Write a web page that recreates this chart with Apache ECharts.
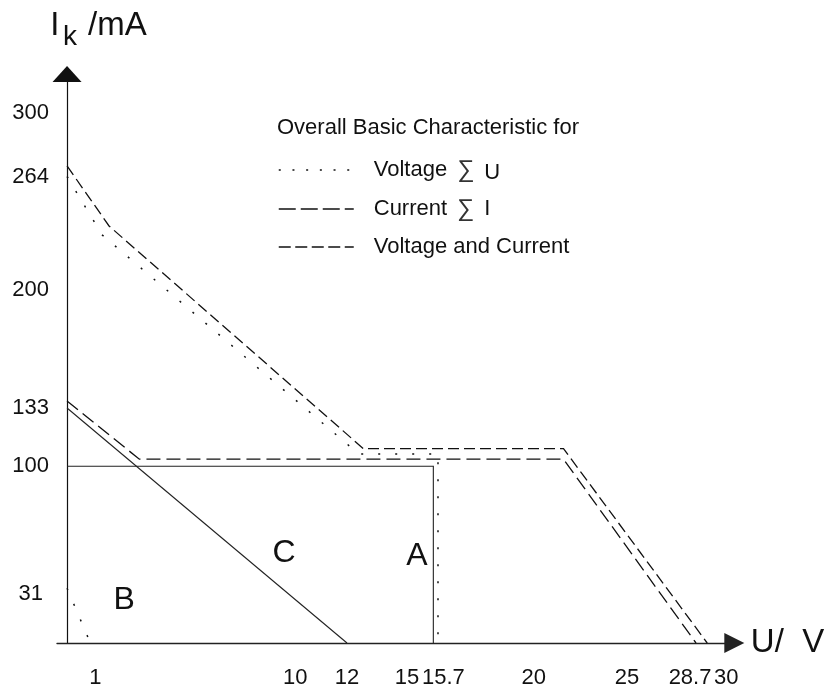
<!DOCTYPE html>
<html>
<head>
<meta charset="utf-8">
<script src="https://cdn.jsdelivr.net/npm/echarts@6/dist/echarts.min.js"></script>
<style>
  html, body { margin: 0; padding: 0; background: #fff; }
  #chart { width: 833px; height: 688px; }
</style>
</head>
<body>
<div id="chart"></div>
<script>
// Tick labels
const uTicks = [1, 10, 12, 15, 15.7, 20, 25, 28.7, 30];
const iTicks = [31, 100, 133, 200, 264, 300];

// Overall characteristics, points as [U / V, Ik / mA]
const voltageSumU = [[0, 264], [1.5, 231], [12.5, 107], [15.9, 107], [15.9, 0]];
const currentSumI = [[0, 137], [3.1, 104], [21.6, 104], [28.7, 0]];
const voltageAndCurrent = [[0, 270], [1.8, 236], [12.7, 110], [21.6, 110], [29.3, 0]];

// Single characteristics A, B, C
const curveA = [[0, 100], [15.7, 100], [15.7, 0]];
const curveB = [[0, 31], [1, 0]];
const curveC = [[0, 133], [12, 0]];

// Curve letters: [U / V, Ik / mA, letter]
const curveTags = [[9.3, 51, 'C'], [15.0, 49, 'A'], [2.45, 24, 'B']];

const FONT = '"Liberation Sans", Arial, Helvetica, sans-serif';
const INK = '#111';

// The voltage axis is drawn compressed above 20 V so the range up to 30 V fits.
const U_KNEE = 20;
const U_SQUEEZE = 0.8;
const axisU = v => (v <= U_KNEE ? v : U_KNEE + (v - U_KNEE) * U_SQUEEZE);
const toAxis = pts => pts.map(([u, i, ...rest]) => [axisU(u), i, ...rest]);

// Small horizontal nudges (px, + = right) for crowded voltage labels
const uLabelShift = { '1': 5, '10': -5, '15': -10, '15.7': 10, '28.7': -6, '30': 6 };
const uRich = {};
const uRichKey = {};
Object.keys(uLabelShift).forEach((txt, n) => {
  const s = uLabelShift[txt];
  const key = 's' + n;
  uRichKey[txt] = key;
  uRich[key] = {
    fontSize: 22, fontFamily: FONT, color: INK,
    padding: s > 0 ? [0, 0, 0, 2 * s] : [0, -2 * s, 0, 0]
  };
});

const line = (name, data, dash, width, color, z) => ({
  type: 'line',
  name,
  data: toAxis(data),
  symbol: 'none',
  showSymbol: false,
  silent: true,
  animation: false,
  z,
  itemStyle: { color },
  lineStyle: { color, width, type: dash, cap: 'butt', join: 'miter' }
});

const legendText = name => {
  const m = name.match(/^(.*) ∑(.)$/);
  if (!m) return `{t|${name}}`;
  return `{t|${m[1]}}{s|∑}{${m[2] === 'U' ? 'low' : 't'}|${m[2]}}`;
};

const chart = echarts.init(document.getElementById('chart'), null, { renderer: 'canvas' });

chart.setOption({
  animation: false,
  backgroundColor: '#fff',
  textStyle: { fontFamily: FONT, color: INK },
  title: {
    text: 'Overall Basic Characteristic for',
    left: 277,
    top: 116.5,
    padding: 0,
    textStyle: { fontSize: 22, fontWeight: 'normal', fontFamily: FONT, color: INK, lineHeight: 22 }
  },
  legend: {
    orient: 'vertical',
    left: 278,
    top: 155,
    padding: 0,
    itemWidth: 75,
    itemHeight: 24,
    itemGap: 9,
    selectedMode: false,
    // line-only keys: the marker in the middle of each key is hidden
    itemStyle: { color: 'rgba(0,0,0,0)', borderWidth: 0, opacity: 0 },
    data: [
      { name: 'Voltage ∑U', lineStyle: { type: [2, 11.7], width: 1.5 } },
      { name: 'Current ∑I', lineStyle: { type: [17, 5], width: 1.3 } },
      { name: 'Voltage and Current', lineStyle: { type: [12, 4.5], width: 1.3 } }
    ],
    formatter: legendText,
    textStyle: {
      fontSize: 22, fontFamily: FONT, color: INK, lineHeight: 24,
      padding: [0, 0, 0, 15],
      rich: {
        t: { fontSize: 22, fontFamily: FONT, color: INK, lineHeight: 24, padding: [3, 0, 3, 0] },
        s: { fontSize: 24, fontFamily: FONT, color: '#333', lineHeight: 24, padding: [3, 10, 3, 10] },
        low: { fontSize: 22, fontFamily: FONT, color: INK, lineHeight: 24, padding: [6, 0, 0, 0] }
      }
    }
  },
  grid: {
    left: 57, right: 98.7, top: 74, bottom: 45,
    containLabel: false,
    outerBoundsMode: 'none'
  },
  xAxis: {
    type: 'value',
    min: -0.43,
    max: 28.6,
    name: 'U/  V',
    nameLocation: 'end',
    nameGap: 16.5,
    nameMoveOverlap: false,
    nameTextStyle: { fontSize: 33, fontFamily: FONT, color: INK, padding: [0, 0, 6, 0] },
    splitLine: { show: false },
    axisTick: { show: false },
    axisLine: {
      show: true,
      onZero: false,
      symbol: ['none', 'triangle'],
      symbolSize: [20, 20],
      lineStyle: { color: '#222', width: 1.4 }
    },
    axisLabel: {
      show: true,
      customValues: uTicks.map(axisU),
      margin: 24,
      hideOverlap: false,
      fontSize: 22,
      fontFamily: FONT,
      color: INK,
      rich: uRich,
      formatter: value => {
        const idx = uTicks.findIndex(u => Math.abs(axisU(u) - value) < 1e-6);
        if (idx < 0) return '';
        const txt = String(uTicks[idx]);
        return uRichKey[txt] ? `{${uRichKey[txt]}|${txt}}` : txt;
      }
    }
  },
  yAxis: {
    type: 'value',
    min: 0,
    max: 322,
    splitLine: { show: false },
    axisTick: { show: false },
    axisLine: {
      show: true,
      onZero: true,
      symbol: ['none', 'triangle'],
      symbolSize: [29, 16],
      lineStyle: { color: '#111', width: 1.2 }
    },
    axisLabel: {
      show: true,
      customValues: iTicks,
      margin: 8,
      hideOverlap: false,
      fontSize: 22,
      fontFamily: FONT,
      color: INK,
      rich: {
        d: { fontSize: 22, fontFamily: FONT, color: INK, padding: [12, 6, 0, 0] }
      },
      formatter: value => (value === 31 ? '{d|31}' : String(value))
    }
  },
  graphic: [
    { type: 'text', silent: true, style: { text: 'I', x: 50.2, y: 25.6, font: '33px ' + FONT, fill: INK, verticalAlign: 'middle' } },
    { type: 'text', silent: true, style: { text: 'k', x: 63, y: 37.3, font: '28px ' + FONT, fill: INK, verticalAlign: 'middle' } },
    { type: 'text', silent: true, style: { text: '/mA', x: 88, y: 25.6, font: '33px ' + FONT, fill: INK, verticalAlign: 'middle' } }
  ],
  series: [
    line('A', curveA, 'solid', 1.1, '#222', 2),
    line('B', curveB, [2, 15], 1.5, INK, 2),
    line('C', curveC, 'solid', 1.1, '#222', 2),
    line('Voltage ∑U', voltageSumU, [2, 15], 1.5, INK, 3),
    line('Current ∑I', currentSumI, [14, 6], 1.3, INK, 3),
    line('Voltage and Current', voltageAndCurrent, [11, 5], 1.3, INK, 3),
    {
      type: 'scatter',
      name: 'curve letters',
      data: toAxis(curveTags),
      symbol: 'circle',
      symbolSize: 1,
      silent: true,
      itemStyle: { color: 'rgba(0,0,0,0)', opacity: 1 },
      label: {
        show: true,
        position: 'inside',
        formatter: p => p.data[2],
        fontSize: 32,
        fontFamily: FONT,
        color: INK,
        opacity: 1,
        textBorderWidth: 0
      },
      z: 4
    }
  ]
});
</script>
</body>
</html>
